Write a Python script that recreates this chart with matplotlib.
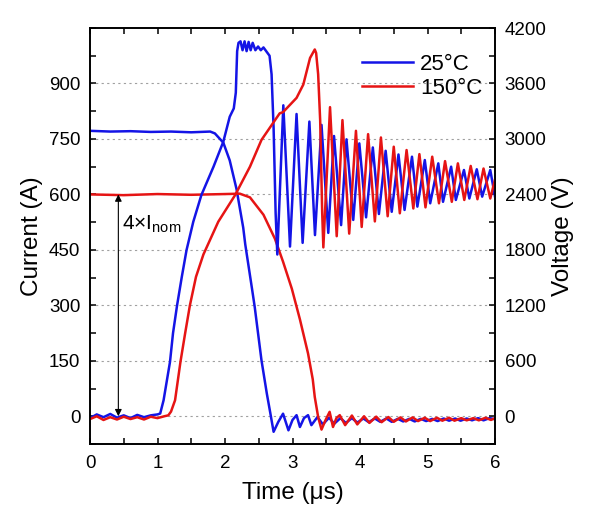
import numpy as np
import matplotlib
matplotlib.use("Agg")
import matplotlib.pyplot as plt
from matplotlib.ticker import MultipleLocator

plt.rcParams['font.family'] = ['Liberation Sans', 'DejaVu Sans']
plt.rcParams['mathtext.fontset'] = 'custom'
plt.rcParams['mathtext.rm'] = 'Liberation Sans'

# ---- data (time in us) ----
# 25 C current (A)
T_I25 = [0, 0.3, 0.6, 0.9, 1.2, 1.5, 1.78, 1.85, 1.975, 2.07, 2.17, 2.27, 2.30, 2.40, 2.44,
         2.54, 2.62, 2.67, 2.72, 2.79, 2.86, 2.94, 3.00, 3.06, 3.11, 3.17, 3.23, 3.28,
         3.37, 3.45, 3.54, 3.62, 3.71, 3.79, 3.88, 3.96, 4.05, 4.13, 4.22, 4.30, 4.39,
         4.47, 4.56, 4.64, 4.73, 4.81, 4.90, 4.98, 5.07, 5.15, 5.24, 5.32, 5.41, 5.49,
         5.58, 5.66, 5.75, 5.83, 5.92, 6.0]
I25 = [772, 770, 771, 769, 770, 768, 770, 765, 740, 692, 615, 510, 465, 345, 296,
       152, 61, 10, -42, -15, 7, -38, -10, 3, -29, -5, 3, -24,
       -2, -22, -4, -20, -5, -18, -5, -17, -6, -16, -6, -15, -6,
       -15, -7, -14, -7, -14, -7, -13, -7, -13, -6, -12, -6, -12,
       -6, -11, -5, -11, -5, -8]

# 25 C voltage (V)
T_V25 = [0, 0.1, 0.2, 0.3, 0.4, 0.5, 0.6, 0.7, 0.8, 0.9, 1.0, 1.04, 1.09, 1.185, 1.23, 1.29,
         1.36, 1.43, 1.53, 1.65, 1.83, 1.975, 2.07, 2.13, 2.16, 2.18, 2.20, 2.23, 2.26,
         2.29, 2.32, 2.35, 2.38, 2.41, 2.45, 2.49, 2.53, 2.57, 2.62, 2.66, 2.69, 2.72,
         2.75, 2.775, 2.864, 2.963, 3.06, 3.15, 3.25, 3.333, 3.43, 3.53, 3.615, 3.72,
         3.80, 3.90, 3.99, 4.09, 4.19, 4.28, 4.38, 4.47, 4.57, 4.66, 4.77, 4.85, 4.96,
         5.04, 5.16, 5.23, 5.35, 5.42, 5.54, 5.62, 5.73, 5.81, 5.93, 6.0]
V25 = [-20, 20, -10, 25, -15, 10, -20, 15, -10, 10, 20, 30, 173, 588, 900, 1200,
       1508, 1797, 2104, 2393, 2700, 2970, 3240, 3330, 3500, 3950, 4040, 4056, 3960,
       4056, 3950, 4050, 3960, 4040, 3960, 4000, 3960, 3990, 3940, 3900, 3700, 3120,
       2200, 1750, 3364, 1836, 3270, 1876, 3188, 1960, 3152, 1984, 3032, 2068,
       2996, 2124, 2952, 2152, 2908, 2188, 2872, 2212, 2832, 2232, 2808, 2268, 2772,
       2304, 2736, 2320, 2700, 2340, 2664, 2356, 2672, 2376, 2664, 2376]

# 150 C current (A)
T_I150 = [0, 0.5, 1.0, 1.5, 2.0, 2.22, 2.37, 2.57, 2.74, 2.86, 2.99, 3.11, 3.23, 3.30,
          3.33, 3.38, 3.43, 3.49, 3.55, 3.60, 3.65, 3.70, 3.78, 3.88, 3.96, 4.06, 4.14,
          4.24, 4.32, 4.42, 4.50, 4.60, 4.68, 4.78, 4.86, 4.96, 5.04, 5.14, 5.22, 5.32,
          5.40, 5.50, 5.58, 5.68, 5.76, 5.86, 5.94, 6.0]
I150 = [600, 598, 601, 599, 601, 602, 592, 545, 480, 418, 345, 262, 170, 100,
        52, -2, -36, -10, 12, -29, -5, 3, -24, 2, -22, 0, -18,
        -1, -16, -2, -15, -3, -14, -3, -13, -4, -13, -4, -12, -4,
        -12, -5, -11, -5, -11, -4, -10, -5]

# 150 C voltage (V)
T_V150 = [0, 0.1, 0.2, 0.3, 0.4, 0.5, 0.6, 0.7, 0.8, 0.9, 1.0, 1.1, 1.16, 1.2, 1.26,
          1.34, 1.41, 1.48, 1.57, 1.68, 1.90, 2.15, 2.37, 2.54, 2.81, 2.86, 3.06, 3.16,
          3.26, 3.33, 3.35, 3.38, 3.41, 3.44, 3.457, 3.556, 3.655, 3.74, 3.84, 3.94,
          4.025, 4.12, 4.22, 4.31, 4.41, 4.50, 4.59, 4.69, 4.79, 4.88, 4.97, 5.07, 5.17,
          5.26, 5.36, 5.45, 5.545, 5.64, 5.74, 5.83, 5.93, 6.0]
V150 = [-30, 0, -40, -10, -35, -5, -30, -10, -35, -5, -20, 0, 10, 50, 173,
        588, 900, 1200, 1508, 1750, 2104, 2393, 2700, 2989, 3277, 3290, 3444, 3588,
        3876, 3968, 3930, 3700, 3200, 2200, 1827, 3344, 1948, 3204, 1976, 3088,
        2048, 3052, 2108, 3016, 2164, 2916, 2196, 2880, 2248, 2836, 2260, 2808, 2304,
        2760, 2320, 2736, 2340, 2708, 2348, 2680, 2356, 2560]

Labels = ['25\u00b0C', '150\u00b0C']
Colors = ['#1414e6', '#e61414']

fig = plt.figure(figsize=(6, 5.19), dpi=100)
ax = fig.add_axes([0.15, 0.1445, 0.675, 0.8015])
ax2 = ax.twinx()

LW = 1.8
ax.plot(T_I25, I25, color=Colors[0], lw=LW, solid_joinstyle='round')
ax.plot(T_I150, I150, color=Colors[1], lw=LW, solid_joinstyle='round')
l1, = ax2.plot(T_V25, V25, color=Colors[0], lw=LW, solid_joinstyle='round')
l2, = ax2.plot(T_V150, V150, color=Colors[1], lw=LW, solid_joinstyle='round')

ax.set_xlim(0, 6)
ax.set_ylim(-75, 1050)
ax2.set_ylim(-300, 4200)

ax.xaxis.set_major_locator(MultipleLocator(1))
ax.xaxis.set_minor_locator(MultipleLocator(0.5))
ax.yaxis.set_major_locator(MultipleLocator(150))
ax.yaxis.set_minor_locator(MultipleLocator(75))
ax2.yaxis.set_major_locator(MultipleLocator(600))
ax2.yaxis.set_minor_locator(MultipleLocator(300))
ax.set_yticks(np.arange(0, 901, 150))
ax2.set_yticks(np.arange(0, 4201, 600))

for a in (ax, ax2):
    a.tick_params(which='both', direction='in', length=4.5, width=1.1, labelsize=13.5)
    for s in a.spines.values():
        s.set_linewidth(1.2)
ax.tick_params(axis='x', which='both', top=True)
ax.tick_params(axis='x', pad=8)
ax.tick_params(axis='y', pad=7)
ax2.tick_params(axis='y', pad=7)

ax.grid(axis='y', which='major', color='#a0a0a0', ls=(0, (2, 3)), lw=0.8)

ax.set_xlabel('Time (\u03bcs)', fontsize=17.5, labelpad=7)
ax.set_ylabel('Current (A)', fontsize=17.5, labelpad=4)
ax2.set_ylabel('Voltage (V)', fontsize=17.5, labelpad=4)

# 4 x I_nom marker
ax.annotate('', xy=(0.42, 0), xytext=(0.42, 600),
            arrowprops=dict(arrowstyle='<|-|>', color='black', lw=0.8,
                            mutation_scale=10, shrinkA=0, shrinkB=0))
ax.text(0.47, 506, '4\u00d7I$_{\\mathregular{nom}}$', fontsize=15, va='baseline')

ax2.legend([l1, l2], Labels, loc='upper right', bbox_to_anchor=(0.99, 0.96),
           frameon=False, fontsize=16, handlelength=2.3, handletextpad=0.3,
           labelspacing=0.15, borderaxespad=0)

fig.savefig('out.png', dpi=100)
